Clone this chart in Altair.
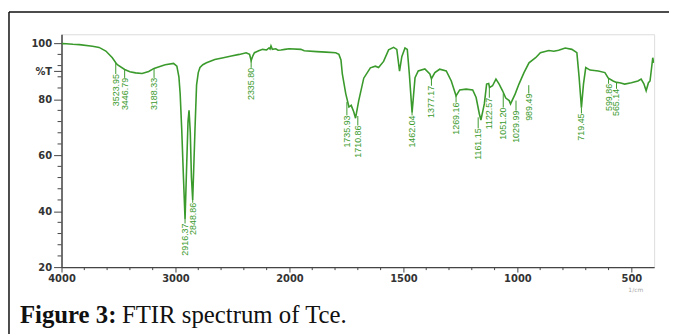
import altair as alt
import pandas as pd

# ---- spectrum (wavenumber cm-1, %T) ----
wavenumber = [4000, 3990, 3900, 3843, 3728, 3670, 3611, 3554, 3524, 3510, 3446, 3400, 3350, 3293,
              3235, 3188, 3130, 3090, 3017, 2988, 2970, 2959, 2945, 2930, 2916, 2905, 2890, 2881,
              2870, 2860, 2849, 2840, 2829, 2815, 2800, 2785, 2760, 2728, 2655, 2580, 2510, 2440,
              2380, 2350, 2336, 2320, 2307, 2270, 2235, 2200, 2180, 2170, 2162, 2150, 2120, 2100,
              2075, 2040, 2003, 1950, 1935, 1880, 1840, 1797, 1783, 1774, 1768, 1753, 1739, 1729,
              1718, 1710, 1696, 1674, 1645, 1623, 1609, 1587, 1565, 1543, 1529, 1517, 1507, 1493,
              1483, 1474, 1462, 1449, 1435, 1406, 1384, 1377, 1362, 1341, 1312, 1290, 1269, 1253,
              1225, 1196, 1181, 1167, 1160, 1145, 1135, 1126, 1122, 1109, 1094, 1080, 1065, 1051,
              1036, 1030, 1010, 993, 971, 949, 920, 899, 862, 840, 819, 790, 761, 739, 729, 719,
              710, 700, 681, 645, 616, 601, 580, 565, 551, 529, 500, 471, 457, 445, 435, 425, 418,
              406, 402]
transmittance = [99.8, 99.9, 99.6, 99.5, 98.9, 98.5, 97.2, 94.8, 93.0, 92.3, 90.6, 89.8, 89.4, 89.2,
                 89.9, 91.0, 91.8, 92.3, 92.8, 91.8, 88.0, 82.0, 69.0, 52.0, 37.0, 52.0, 72.0, 76.0,
                 68.0, 52.0, 44.0, 55.0, 69.0, 85.0, 89.5, 91.3, 92.3, 93.0, 94.2, 94.8, 95.4, 96.0,
                 96.6, 96.0, 93.8, 95.6, 96.6, 97.3, 97.8, 97.6, 98.3, 97.9, 99.0, 97.8, 98.0, 97.5,
                 97.6, 97.8, 98.0, 97.8, 97.3, 97.0, 96.8, 96.6, 96.0, 94.0, 89.0, 82.0, 77.2, 77.8,
                 75.5, 73.2, 79.5, 87.5, 91.2, 91.8, 91.3, 93.5, 97.6, 98.5, 97.8, 90.0, 95.2, 98.3,
                 97.8, 89.0, 75.2, 87.7, 90.1, 90.8, 89.0, 87.3, 89.5, 90.7, 90.1, 86.5, 81.2, 83.3,
                 83.6, 83.3, 80.6, 74.8, 72.5, 78.3, 85.4, 85.6, 84.2, 84.8, 87.2, 85.4, 83.0, 80.4,
                 79.5, 78.3, 81.8, 85.4, 89.5, 93.0, 94.8, 96.6, 97.4, 97.1, 97.5, 98.3, 97.8, 96.6,
                 87.7, 77.0, 85.4, 91.3, 90.4, 90.1, 89.5, 87.5, 86.5, 86.0, 85.9, 85.4, 85.9, 86.5,
                 87.2, 85.5, 83.0, 85.9, 86.5, 94.8, 93.0]

# ---- peak annotations ----
peak_labels = ["3523.95", "3446.79", "3188.33", "2916.37", "2848.86", "2335.80", "1735.93",
               "1710.86", "1462.04", "1377.17", "1269.16", "1161.15", "1122.57", "1051.20",
               "1029.99", "989.49", "719.45", "599.86", "565.14"]
peak_wn = [3524, 3446, 3188, 2916, 2849, 2336, 1748, 1700, 1462, 1377, 1269, 1172, 1123, 1062,
           1006, 950, 719, 600, 565]
peak_T = [93.0, 90.6, 91.0, 37.0, 44.0, 93.8, 79.0, 74.0, 75.2, 87.3, 81.2, 73.5, 84.2, 82.0,
          79.5, 85.0, 77.0, 87.5, 86.0]
label_top_T = [89.0, 87.6, 87.6, 35.6, 43.0, 91.2, 74.2, 70.6, 74.2, 84.8, 78.8, 69.6, 80.5, 77.0,
               75.9, 82.0, 74.9, 85.5, 83.7]

x_major = [4000, 3000, 2000, 1500, 1000, 500]
x_minor = [3800, 3600, 3400, 3200, 2800, 2600, 2400, 2200, 1900, 1800, 1700, 1600, 1400, 1300,
           1200, 1100, 900, 800, 700, 600]
y_major = [20, 40, 60, 80, 90, 100]
y_minor = [24, 28, 32, 36, 44, 48, 52, 56, 64, 68, 72, 76, 84, 88, 92, 96]

GREEN = "#3a9a2c"
W, H = 598, 235

spec = pd.DataFrame({"i": range(len(wavenumber)), "wn": wavenumber, "T": transmittance})
peaks = pd.DataFrame({"wn": peak_wn, "T": peak_T, "Tl": label_top_T, "lab": peak_labels})
xmin_df = pd.DataFrame({"wn": x_minor})
ymin_df = pd.DataFrame({"T": y_minor})

xscale = alt.Scale(domain=[4000, 2000, 400], range=[0, 230, W], nice=False, zero=False)
yscale = alt.Scale(domain=[20, 103.2], nice=False, zero=False)

xaxis = alt.Axis(values=x_major, title=None, grid=False, tickSize=5, labelPadding=2, format="d",
                 labelFont="DejaVu Sans", labelFontWeight="bold", labelFontSize=10,
                 labelColor="#333", domainColor="#444", tickColor="#444", domainWidth=1.5,
                 labelFlush=False)
yaxis = alt.Axis(values=y_major, title=None, grid=False, tickSize=8, labelPadding=2,
                 labelExpr="datum.value == 90 ? '%T' : datum.label",
                 labelFont="DejaVu Sans", labelFontWeight="bold", labelFontSize=10,
                 labelColor="#333", domainColor="#444", tickColor="#444", domainWidth=1.5)

line = alt.Chart(spec).mark_line(color=GREEN, strokeWidth=1.6, clip=True).encode(
    x=alt.X("wn:Q", scale=xscale, axis=xaxis),
    y=alt.Y("T:Q", scale=yscale, axis=yaxis),
    order="i:Q",
)

leaders = alt.Chart(peaks).mark_rule(color=GREEN, strokeWidth=1).encode(
    x=alt.X("wn:Q", scale=xscale), y=alt.Y("T:Q", scale=yscale), y2="Tl:Q"
)

labels = alt.Chart(peaks).mark_text(angle=270, align="right", baseline="middle", fontSize=9,
                                    font="Liberation Sans Narrow, Liberation Sans, sans-serif",
                                    color=GREEN).encode(
    x=alt.X("wn:Q", scale=xscale), y=alt.Y("Tl:Q", scale=yscale), text="lab:N"
)

xminor = alt.Chart(xmin_df).mark_rule(color="#444", strokeWidth=1).encode(
    x=alt.X("wn:Q", scale=xscale), y=alt.value(H), y2=alt.value(H + 3)
)
yminor = alt.Chart(ymin_df).mark_rule(color="#444", strokeWidth=1).encode(
    y=alt.Y("T:Q", scale=yscale), x=alt.value(-4), x2=alt.value(0)
)

unit = alt.Chart(pd.DataFrame({"t": ["1/cm"]})).mark_text(
    fontSize=6, color="#aaa", align="left", font="DejaVu Sans").encode(
    text="t:N", x=alt.value(572), y=alt.value(258))

cap_bold = alt.Chart(pd.DataFrame({"t": ["Figure 3:"]})).mark_text(
    fontSize=25, fontWeight="bold", font="Liberation Serif", align="left",
    baseline="alphabetic", color="#111").encode(
    text="t:N", x=alt.value(-42), y=alt.value(291))
cap_reg = alt.Chart(pd.DataFrame({"t": ["FTIR spectrum of Tce."]})).mark_text(
    fontSize=25, font="Liberation Serif", align="left", baseline="alphabetic",
    color="#111").encode(
    text="t:N", x=alt.value(61), y=alt.value(291))

box_top = alt.Chart(pd.DataFrame({"a": [0]})).mark_rule(color="#111", strokeWidth=1.5).encode(
    x=alt.value(-53), x2=alt.value(W + 20), y=alt.value(-22.5))
box_left = alt.Chart(pd.DataFrame({"a": [0]})).mark_rule(color="#111", strokeWidth=1.5).encode(
    x=alt.value(-53), y=alt.value(-22.5), y2=alt.value(H + 80))

chart = alt.layer(line, leaders, labels, xminor, yminor, unit, cap_bold, cap_reg,
                  box_top, box_left).properties(
    width=W, height=H,
    autosize=alt.AutoSizeParams(type="none"),
    padding={"left": 54, "top": 25, "right": 15, "bottom": 66},
).configure_view(stroke="#888", strokeWidth=1.5).configure(background="white")

chart.save("out.html", embed_options={"renderer": "svg", "actions": False})
